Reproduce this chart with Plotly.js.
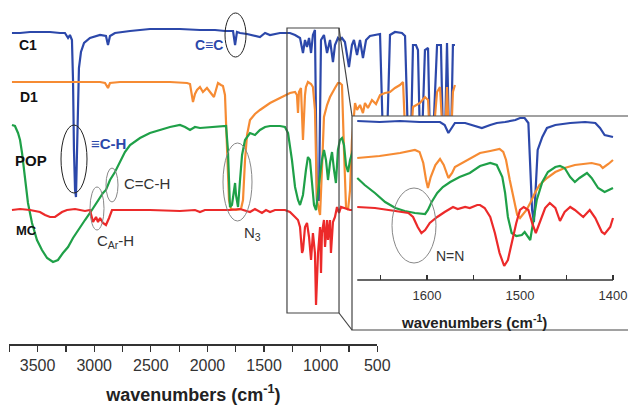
<!DOCTYPE html>
<html>
<head>
<meta charset="utf-8">
<script src="https://cdn.plot.ly/plotly-3.0.1.min.js"></script>
<style>html,body{margin:0;padding:0;background:#fff;}#chart{width:628px;height:409px;}</style>
</head>
<body>
<div id="chart"></div>
<script>
// ---------- Main FTIR spectra (wavenumber in cm-1, band depth in a.u.; larger = deeper) ----------
const c1Wn = [3759,3699,3625,3551,3476,3402,3365,3342,3328,3313,3305,3298,3290,3283,3275,3268,3261,3246,3223,3179,3104,3060,3045,3030,2993,2881,2733,2510,2361,2249,2175,2115,2100,2086,2063,2011,1915,1877,1840,1766,1692,1654,1617,1595,1580,1565,1550,1535,1521,1506,1498,1491,1476,1468,1461,1439,1416,1394,1372,1357,1335,1320,1305,1283,1253,1231,1216,1193,1171,1149,1126,1097,1060,1022,1000,970,948,911,859,836,814,792,777,755,740,725,710,688,665,651,628,598,569,554,539,524,509,494,480,465];
const c1Val = [33,33,32,32,32,33,33,38,35,40,80,150,190,197,150,95,68,52,43,38,35,36,45,36,33,31,29,29,30,30,31,31,45,32,33,34,37,33,35,33,33,35,38,53,40,47,38,53,35,30,100,200,200,100,40,35,53,40,62,45,38,40,38,42,67,45,40,55,40,58,40,36,35,34,140,140,35,32,33,36,140,140,45,45,50,140,140,50,48,140,140,45,45,140,140,43,140,140,45,45];

const d1Wn = [3759,3625,3476,3328,3253,3104,3067,3045,3030,2956,2733,2584,2457,2435,2413,2398,2383,2361,2339,2309,2286,2257,2242,2227,2205,2190,2175,2160,2145,2130,2093,2056,2041,2026,2011,1989,1952,1915,1840,1766,1692,1654,1640,1632,1625,1610,1595,1580,1573,1558,1535,1521,1506,1491,1468,1454,1439,1416,1394,1357,1335,1320,1305,1290,1275,1260,1245,1231,1208,1193,1171,1149,1134,1112,1082,1052,1022,985,948,911,874,851,836,814,792,777,725,688,665,651,628,598,576,554,539,524,509,494,480,465];
const d1Val = [82,82,82,82,82,82,83,88,83,82,82,82,83,84,102,94,90,87,92,88,92,97,90,83,85,86,95,150,200,209,210,209,200,160,135,120,114,110,103,98,93,92,95,113,92,88,140,95,87,82,84,87,110,200,215,170,117,105,97,88,83,83,85,150,207,210,190,140,103,110,105,113,103,108,100,104,95,93,92,88,85,82,130,140,140,107,103,97,100,140,140,92,87,140,140,87,140,140,92,85];

const popWn = [3759,3737,3714,3699,3684,3662,3640,3610,3573,3536,3498,3454,3417,3380,3342,3305,3268,3216,3179,3142,3104,3082,3060,3030,2993,2956,2919,2881,2807,2733,2658,2584,2510,2472,2435,2398,2361,2286,2212,2167,2153,2138,2123,2108,2100,2093,2078,2063,2048,2026,2004,1989,1952,1915,1877,1840,1766,1729,1706,1677,1654,1632,1617,1595,1573,1558,1543,1528,1513,1498,1483,1468,1454,1439,1424,1409,1394,1379,1364,1350,1335,1320,1305,1290,1275,1260,1245,1223,874,465];
const popVal = [125,126,133,140,153,180,203,223,240,250,258,262,260,253,247,238,230,220,213,205,197,193,190,180,172,162,152,145,138,133,130,127,125,127,130,127,128,127,126,126,150,207,205,190,183,195,207,180,155,140,135,133,135,130,127,126,126,127,133,160,187,200,205,195,170,157,160,185,205,210,195,175,160,150,160,180,163,152,170,183,150,140,138,145,165,172,160,150,150,150];

const mcWn = [3759,3699,3625,3551,3513,3476,3439,3387,3350,3290,3216,3179,3156,3134,3119,3104,3082,3060,3037,3015,2956,2733,2510,2398,2361,2324,2138,2063,1989,1952,1900,1870,1840,1803,1729,1692,1654,1632,1617,1602,1595,1580,1565,1550,1535,1521,1506,1498,1483,1468,1461,1454,1439,1431,1416,1409,1394,1387,1372,1357,1342,1327,1312,1283,1245,1208,874,465];
const mcVal = [210,209,210,212,215,217,217,212,210,209,211,210,222,217,222,218,223,225,218,210,210,210,211,210,212,210,210,209,212,209,213,210,212,210,210,212,217,220,227,253,250,227,223,237,260,233,253,305,253,227,273,233,220,247,220,240,220,253,222,217,207,213,207,208,210,210,210,210];

// ---------- Inset (1680-1400 cm-1) ----------
const c1InWn = [1675,1651,1629,1608,1586,1581,1577,1573,1570,1559,1546,1541,1532,1525,1516,1505,1500,1495,1491,1489,1487,1485,1483,1481,1476,1471,1462,1446,1430,1419,1414,1409,1400];
const c1InVal = [121,122,121,122,122,125,133,127,123,123,127,128,125,123,122,120,118,118,123,160,210,222,177,150,137,128,125,123,122,123,128,135,137];

const d1InWn = [1675,1651,1629,1613,1608,1604,1601,1599,1596,1591,1586,1582,1577,1573,1570,1562,1554,1543,1532,1522,1518,1515,1511,1506,1503,1500,1497,1493,1489,1484,1479,1471,1462,1452,1441,1430,1423,1414,1411,1405,1400];
const d1InVal = [158,156,153,150,152,163,180,188,177,165,159,165,178,173,167,163,159,153,151,149,152,160,180,203,215,218,215,210,203,193,185,178,172,168,165,164,163,165,168,164,160];

const popInWn = [1675,1667,1656,1645,1634,1624,1613,1602,1599,1595,1589,1583,1575,1565,1554,1543,1532,1525,1519,1516,1513,1509,1504,1498,1495,1491,1489,1486,1482,1476,1470,1462,1457,1452,1446,1441,1436,1428,1423,1416,1409,1400];
const popInVal = [178,185,193,202,208,211,213,214,210,202,193,187,182,177,173,166,163,165,177,193,217,233,236,235,232,237,240,223,200,182,172,167,166,168,177,182,178,173,178,188,192,188];

const mcInWn = [1675,1656,1634,1620,1615,1610,1606,1602,1597,1589,1581,1572,1567,1559,1554,1546,1543,1538,1532,1527,1522,1517,1513,1509,1504,1500,1496,1491,1487,1483,1479,1473,1468,1462,1457,1452,1446,1441,1432,1425,1419,1412,1409,1403,1400];
const mcInVal = [207,208,211,213,217,227,233,230,223,217,212,207,209,207,208,205,205,208,217,233,253,266,260,243,223,210,207,210,223,233,223,208,203,208,221,212,207,210,217,210,218,232,234,227,218];

const seriesNames = ['C1','D1','POP','MC'];
const seriesColors = ['#2c48aa','#f68b33','#1fa048','#ec2a2a'];
const mainX = [c1Wn, d1Wn, popWn, mcWn];
const mainY = [c1Val, d1Val, popVal, mcVal];
const insetX = [c1InWn, d1InWn, popInWn, mcInWn];
const insetY = [c1InVal, d1InVal, popInVal, mcInVal];

const axisTicks = [3500,3000,2500,2000,1500,1000,500];
const insetTicks = [1600,1500,1400];

// ---------- layout helpers (pixel -> paper) ----------
const W = 628, H = 409;
const px = x => x / W;
const py = y => 1 - y / H;
const FONT = 'Arial, "Liberation Sans", sans-serif';

const traces = [];
// invisible carrier trace so the labelled wavenumber axis (x / y) is drawn
traces.push({x: axisTicks, y: axisTicks.map(() => 0.5), type: 'scatter', mode: 'markers',
  marker: {opacity: 0, size: 1}, xaxis: 'x', yaxis: 'y', hoverinfo: 'skip', showlegend: false});
for (let i = 0; i < 4; i++) {
  traces.push({x: mainX[i], y: mainY[i], type: 'scatter', mode: 'lines', name: seriesNames[i],
    xaxis: 'x2', yaxis: 'y2', line: {color: seriesColors[i], width: 2.2}, hoverinfo: 'skip'});
}
for (let i = 0; i < 4; i++) {
  traces.push({x: insetX[i], y: insetY[i], type: 'scatter', mode: 'lines', name: seriesNames[i] + ' inset',
    xaxis: 'x3', yaxis: 'y3', line: {color: seriesColors[i], width: 2.2}, hoverinfo: 'skip'});
}

function ellipse(x0, y0, x1, y1, color) {
  return {type: 'circle', xref: 'paper', yref: 'paper', x0: px(x0), x1: px(x1), y0: py(y1), y1: py(y0),
    line: {color: color, width: 1}, layer: 'above'};
}
function label(text, x, y, size, color, bold, anchor) {
  return {text: bold ? '<b>' + text + '</b>' : text, x: px(x), y: py(y), xref: 'paper', yref: 'paper',
    showarrow: false, xanchor: anchor || 'center', yanchor: 'middle',
    font: {family: FONT, size: size, color: color}};
}

const layout = {
  width: W, height: H,
  margin: {l: 0, r: 0, t: 0, b: 0},
  paper_bgcolor: '#fff', plot_bgcolor: '#fff',
  showlegend: false,
  font: {family: FONT, color: '#333'},
  xaxis: {
    domain: [px(9.3), px(377.3)], range: [3750, 500], anchor: 'y',
    tickvals: axisTicks, ticks: 'outside', ticklen: 6, tickwidth: 1.3, tickcolor: '#333',
    minor: {dtick: 250, tick0: 0, ticks: 'outside', ticklen: 6, tickwidth: 1.3, tickcolor: '#333'},
    showline: true, linecolor: '#333', linewidth: 1.5, showgrid: false, zeroline: false,
    tickfont: {family: FONT, size: 16, color: '#333'}, ticklabelstandoff: 0,
    title: {text: '<b>wavenumbers (cm<sup>-1</sup>)</b>', font: {family: FONT, size: 18, color: '#222'}, standoff: 15}
  },
  yaxis: {domain: [py(344), 1], range: [0, 1], anchor: 'x', visible: false},
  xaxis2: {domain: [0, px(470)], range: [3848, 353], anchor: 'y2', visible: false},
  yaxis2: {domain: [py(335), 1], range: [335, 0], anchor: 'x2', visible: false},
  xaxis3: {
    domain: [px(352), 1], range: [1680.65, 1383.87], anchor: 'y3',
    tickvals: insetTicks, ticks: 'inside', ticklen: 5, tickwidth: 1.2, tickcolor: '#333',
    minor: {dtick: 50, tick0: 0, ticks: 'inside', ticklen: 5, tickwidth: 1.2, tickcolor: '#333'},
    showline: false, showgrid: false, zeroline: false,
    tickfont: {family: FONT, size: 13, color: '#333'}, ticklabelstandoff: 6
  },
  yaxis3: {domain: [py(280), py(116)], range: [280, 116], anchor: 'x3', visible: false},
  shapes: [
    {type: 'rect', xref: 'x2', yref: 'paper', x0: 1714, x1: 1327, y0: py(313), y1: py(28),
      line: {color: '#444', width: 1.2}, layer: 'above'},
    {type: 'line', xref: 'paper', yref: 'paper', x0: px(339), y0: py(28), x1: px(352), y1: py(116),
      line: {color: '#444', width: 1.2}},
    {type: 'line', xref: 'paper', yref: 'paper', x0: px(339), y0: py(313), x1: px(352), y1: py(330),
      line: {color: '#444', width: 1.2}},
    {type: 'rect', xref: 'paper', yref: 'paper', x0: px(352), x1: 1.02, y0: py(330), y1: py(116),
      line: {color: '#444', width: 1.2}, layer: 'above'},
    {type: 'line', xref: 'x3', yref: 'paper', x0: 1675, x1: 1400, y0: py(280), y1: py(280),
      line: {color: '#333', width: 1.4}},
    ellipse(225, 13, 246, 57, '#222'),
    ellipse(61, 125, 87, 193, '#222'),
    ellipse(106, 168, 118, 202, '#888'),
    ellipse(90, 187, 104, 230, '#888'),
    ellipse(223, 143, 252, 221, '#888'),
    ellipse(392, 188, 436, 263, '#888')
  ],
  annotations: [
    label('C1', 17, 45, 14, '#111', true, 'left'),
    label('D1', 18, 97, 14, '#111', true, 'left'),
    label('POP', 13, 160, 15, '#111', true, 'left'),
    label('MC', 14, 230, 13, '#111', true, 'left'),
    label('\u2261C-H', 108, 143, 15, '#2c48aa', true),
    label('C\u2261C', 209, 45, 14, '#2c48aa', true),
    label('C=C-H', 147, 183, 15, '#333', false),
    label('C<sub>Ar</sub>-H', 116, 242, 15, '#333', false),
    label('N<sub>3</sub>', 252, 233, 15, '#333', false),
    label('N=N', 450, 256, 14, '#333', false),
    label('<b>wavenumbers (cm<sup>-1</sup>)</b>', 474, 321, 15, '#222', false)
  ]
};

Plotly.newPlot('chart', traces, layout, {staticPlot: true, displayModeBar: false});
</script>
</body>
</html>
